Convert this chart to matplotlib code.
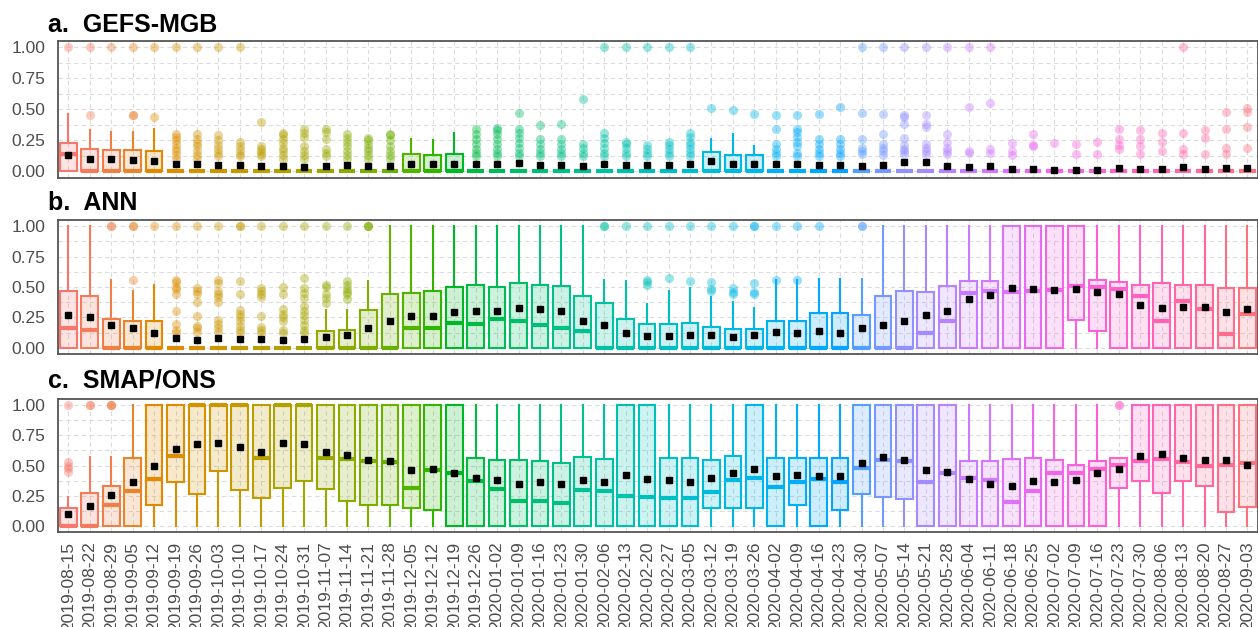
import numpy as np
import pandas as pd
import matplotlib
matplotlib.use("Agg")
import matplotlib.pyplot as plt

plt.rcParams['font.family'] = ['Liberation Sans', 'DejaVu Sans']

dates = pd.date_range('2019-08-15', periods=56, freq='7D').strftime('%Y-%m-%d').tolist()

# ---- a. GEFS-MGB ----
a_q1 = [0.0] * 56
a_q3 = [0.23, 0.18, 0.17, 0.17, 0.16, 0, 0, 0, 0, 0, 0, 0, 0, 0, 0, 0,
        0.14, 0.135, 0.14, 0, 0, 0, 0, 0, 0, 0, 0, 0, 0, 0,
        0.155, 0.135, 0.13, 0, 0, 0, 0, 0, 0, 0, 0, 0, 0, 0,
        0, 0, 0, 0, 0, 0, 0, 0, 0, 0, 0, 0]
a_med = [0.14] + [0.0] * 55
a_whi = [0.46, 0.33, 0.32, 0.32, 0.34, 0, 0, 0, 0, 0, 0, 0, 0, 0, 0, 0,
         0.26, 0.25, 0.31, 0, 0, 0, 0, 0, 0, 0, 0, 0, 0, 0,
         0.26, 0.30, 0.20, 0, 0, 0, 0, 0, 0, 0, 0, 0, 0, 0,
         0, 0, 0, 0, 0, 0, 0, 0, 0, 0, 0, 0]
a_wlo = [0.0] * 56
a_mean = [0.13, 0.10, 0.10, 0.095, 0.08, 0.06, 0.055, 0.05, 0.05, 0.04, 0.04, 0.035,
          0.04, 0.048, 0.04, 0.04, 0.055, 0.055, 0.06, 0.055, 0.06, 0.067, 0.05, 0.05,
          0.04, 0.06, 0.05, 0.05, 0.05, 0.06, 0.08, 0.06, 0.06, 0.06, 0.06, 0.05,
          0.048, 0.045, 0.048, 0.075, 0.073, 0.04, 0.035, 0.045, 0.02, 0.019, 0.013,
          0.013, 0.013, 0.027, 0.02, 0.02, 0.035, 0.02, 0.03, 0.027]
a_out = [
    [1.0], [0.45, 1.0], [1.0], [0.45, 0.45, 1.0], [0.44, 1.0],
    [0.1, 0.13, 0.16, 0.19, 0.22, 0.25, 0.28, 0.3, 1.0],
    [0.1, 0.13, 0.16, 0.2, 0.23, 0.26, 0.3, 1.0],
    [0.12, 0.15, 0.18, 0.21, 0.25, 0.29, 1.0],
    [0.12, 0.14, 0.17, 0.2, 0.24, 1.0],
    [0.12, 0.14, 0.16, 0.18, 0.2, 0.4],
    [0.1, 0.13, 0.16, 0.19, 0.23, 0.26, 0.29, 0.31],
    [0.1, 0.13, 0.16, 0.2, 0.28, 0.31, 0.34],
    [0.12, 0.15, 0.18, 0.26, 0.32, 0.34],
    [0.1, 0.13, 0.16, 0.2, 0.24, 0.27, 0.3],
    [0.1, 0.13, 0.16, 0.19, 0.22, 0.25, 0.27],
    [0.1, 0.13, 0.16, 0.2, 0.25, 0.29, 0.3],
    [], [], [],
    [0.12, 0.15, 0.18, 0.22, 0.26, 0.3, 0.34],
    [0.12, 0.15, 0.18, 0.22, 0.26, 0.3, 0.33, 0.35],
    [0.12, 0.15, 0.19, 0.23, 0.27, 0.31, 0.34, 0.47],
    [0.12, 0.15, 0.18, 0.22, 0.26, 0.37],
    [0.12, 0.15, 0.18, 0.22, 0.26, 0.38],
    [0.12, 0.15, 0.19, 0.22, 0.58],
    [0.12, 0.15, 0.19, 0.23, 0.27, 0.31, 1.0],
    [0.12, 0.15, 0.19, 0.22, 0.24, 1.0],
    [0.12, 0.15, 0.18, 0.21, 1.0],
    [0.12, 0.15, 0.18, 0.21, 0.24, 1.0],
    [0.12, 0.15, 0.18, 0.21, 0.24, 0.28, 0.31, 1.0],
    [0.51], [0.49], [0.46],
    [0.12, 0.15, 0.18, 0.22, 0.34, 0.45],
    [0.12, 0.15, 0.2, 0.24, 0.28, 0.32, 0.34, 0.45],
    [0.12, 0.15, 0.18, 0.22, 0.26, 0.46],
    [0.12, 0.15, 0.18, 0.22, 0.26, 0.52],
    [0.14, 0.16, 0.19, 0.26, 0.47, 1.0],
    [0.13, 0.16, 0.19, 0.22, 0.3, 0.46, 1.0],
    [0.14, 0.16, 0.18, 0.21, 0.27, 0.38, 0.44, 0.45, 1.0],
    [0.14, 0.16, 0.19, 0.22, 0.36, 0.38, 0.45, 1.0],
    [0.14, 0.16, 0.19, 0.24, 0.3, 1.0],
    [0.15, 0.16, 0.52, 1.0],
    [0.15, 0.18, 0.55, 1.0],
    [0.13, 0.16, 0.23],
    [0.2, 0.21, 0.3],
    [0.23],
    [0.14, 0.22],
    [0.14, 0.24],
    [0.18, 0.21, 0.26, 0.34],
    [0.14, 0.2, 0.26, 0.33],
    [0.16, 0.24, 0.31],
    [0.14, 0.18, 0.31, 1.0],
    [0.14, 0.27, 0.33],
    [0.14, 0.19, 0.34, 0.48],
    [0.19, 0.36, 0.48, 0.51],
]

# ---- b. ANN ----
b_q1 = [0.0] * 47 + [0.233, 0.137] + [0.0] * 7
b_q3 = [0.47, 0.43, 0.24, 0.22, 0.22, 0, 0, 0, 0, 0, 0, 0, 0.137, 0.148, 0.31, 0.44,
        0.45, 0.465, 0.50, 0.515, 0.50, 0.534, 0.52, 0.507, 0.43, 0.37, 0.24, 0.197,
        0.20, 0.205, 0.17, 0.156, 0.156, 0.225, 0.225, 0.29, 0.29, 0.27, 0.43, 0.466,
        0.46, 0.512, 0.548, 0.553, 1.0, 1.0, 1.0, 1.0, 0.56, 0.54, 0.52, 0.53, 0.52,
        0.52, 0.49, 0.49]
b_med = [0.16, 0.145, 0, 0, 0, 0, 0, 0, 0, 0, 0, 0, 0, 0, 0, 0,
         0.16, 0.164, 0.205, 0.197, 0.24, 0.22, 0.19, 0.16, 0.137, 0, 0, 0,
         0, 0, 0, 0, 0, 0, 0, 0, 0, 0, 0, 0,
         0.123, 0.22, 0.447, 0.466, 0.457, 0.47, 0.474, 0.507, 0.50, 0.485, 0.43, 0.22,
         0.384, 0.323, 0.118, 0.28]
b_whi = [1.0, 1.0, 0.56, 0.47, 0.52, 0, 0, 0, 0, 0, 0, 0, 0.31, 0.315, 0.55,
         1.0, 1.0, 1.0, 1.0, 1.0, 1.0, 1.0, 1.0, 1.0, 1.0,
         0.556, 0.55, 0.364, 0.47, 0.49, 0.42, 0.38, 0.33, 0.56, 0.56, 0.567, 0.567, 0.567,
         1.0, 1.0, 1.0, 1.0, 1.0, 1.0, 1.0, 1.0, 1.0, 1.0, 1.0, 1.0, 1.0, 1.0, 1.0,
         1.0, 1.0, 1.0]
b_wlo = [0.0] * 56
b_mean = [0.27, 0.255, 0.19, 0.16, 0.12, 0.08, 0.063, 0.08, 0.077, 0.077, 0.063, 0.077,
          0.09, 0.104, 0.165, 0.22, 0.26, 0.266, 0.293, 0.307, 0.307, 0.33, 0.323, 0.307,
          0.22, 0.186, 0.123, 0.096, 0.10, 0.11, 0.11, 0.09, 0.11, 0.13, 0.123, 0.137,
          0.123, 0.16, 0.186, 0.22, 0.27, 0.30, 0.40, 0.433, 0.488, 0.48, 0.474, 0.48,
          0.46, 0.44, 0.356, 0.33, 0.337, 0.337, 0.296, 0.32]
b_out = [
    [], [], [1.0, 1.0], [0.56, 1.0, 1.0], [1.0],
    [0.12, 0.15, 0.2, 0.3, 0.44, 0.48, 0.5, 0.54, 0.56, 1.0],
    [0.13, 0.16, 0.18, 0.26, 0.38, 0.44, 0.47, 0.49, 1.0],
    [0.13, 0.16, 0.2, 0.23, 0.38, 0.42, 0.44, 0.47, 0.53, 0.56, 1.0],
    [0.12, 0.15, 0.18, 0.22, 0.25, 0.28, 0.31, 0.44, 0.55, 1.0, 1.0],
    [0.12, 0.15, 0.17, 0.26, 0.42, 0.44, 0.47, 0.49, 1.0],
    [0.12, 0.15, 0.22, 0.25, 0.28, 0.32, 0.44, 0.5, 1.0],
    [0.12, 0.15, 0.19, 0.23, 0.27, 0.3, 0.34, 0.41, 0.45, 0.49, 0.57, 1.0],
    [0.37, 0.41, 0.44, 0.5, 0.52, 1.0],
    [0.4, 0.44, 0.46, 0.48, 0.52, 0.55, 1.0],
    [1.0, 1.0, 1.0],
    [], [], [], [], [], [], [], [], [], [],
    [1.0, 1.0], [1.0],
    [0.52, 0.54, 0.56, 1.0],
    [0.57, 1.0],
    [0.55, 1.0],
    [0.47, 0.48, 0.54, 1.0],
    [0.44, 0.46, 0.49, 1.0],
    [0.44, 0.46, 0.53, 1.0, 1.0],
    [0.56, 1.0], [0.56, 1.0], [1.0], [],
    [1.0, 1.0],
    [], [], [], [], [], [], [], [], [], [], [], [], [], [], [], [], [], [],
]

# ---- c. SMAP/ONS ----
c_q1 = [0, 0, 0, 0, 0.177, 0.36, 0.268, 0.458, 0.30, 0.232, 0.315, 0.37, 0.304, 0.204,
        0.171, 0.171, 0.152, 0.135, 0, 0, 0, 0, 0, 0, 0, 0, 0, 0, 0, 0, 0.149, 0.152,
        0.149, 0, 0.171, 0, 0.13, 0.268, 0.24, 0.227, 0, 0, 0, 0, 0, 0, 0, 0, 0, 0.315,
        0.37, 0.276, 0.37, 0.33, 0.116, 0.157]
c_q3 = [0.15, 0.276, 0.33, 0.563] + [1.0] * 15 + \
       [0.558, 0.544, 0.544, 0.536, 0.517, 0.572, 0.552, 1.0, 1.0, 0.566, 0.558, 0.544,
        0.58, 1.0, 0.563, 0.563, 0.563, 0.566, 1.0, 1.0, 1.0, 1.0, 1.0, 0.539, 0.539,
        0.552, 0.558, 0.544, 0.508, 0.536, 0.563, 1.0, 1.0, 1.0, 1.0, 1.0, 1.0]
c_med = [0, 0, 0.17, 0.293, 0.392, 0.577, 1.0, 1.0, 1.0, 0.566, 1.0, 1.0, 0.566, 0.552,
         0.541, 0.525, 0.31, 0.461, 0.44, 0.37, 0.304, 0.204, 0.204, 0.19, 0.30, 0.29,
         0.246, 0.24, 0.235, 0.235, 0.282, 0.384, 0.398, 0.323, 0.36, 0.392, 0.36, 0.48,
         0.544, 0.539, 0.365, 0.434, 0.398, 0.384, 0.20, 0.29, 0.44, 0.44, 0.47, 0.503,
         0.539, 0.552, 0.53, 0.497, 0.508, 0.517]
c_whi = [0.24, 0.57, 0.57] + [1.0] * 46 + [0.563] + [1.0] * 6
c_wlo = [0.0] * 56
c_mean = [0.10, 0.166, 0.254, 0.365, 0.494, 0.64, 0.674, 0.69, 0.655, 0.613, 0.682, 0.677,
          0.608, 0.59, 0.544, 0.536, 0.461, 0.475, 0.434, 0.398, 0.378, 0.345, 0.36, 0.345,
          0.378, 0.36, 0.425, 0.392, 0.378, 0.365, 0.40, 0.434, 0.47, 0.41, 0.42, 0.41,
          0.414, 0.522, 0.572, 0.544, 0.459, 0.448, 0.387, 0.345, 0.33, 0.37, 0.365, 0.384,
          0.434, 0.475, 0.577, 0.594, 0.566, 0.544, 0.544, 0.508]
c_out = [[0.45, 0.48, 0.5, 0.53, 1.0], [1.0, 1.0], [1.0, 1.0, 1.0]] + [[]] * 46 + \
        [[1.0, 1.0]] + [[]] * 6

panels = [
    ('a.  GEFS-MGB', a_q1, a_med, a_q3, a_wlo, a_whi, a_mean, a_out),
    ('b.  ANN', b_q1, b_med, b_q3, b_wlo, b_whi, b_mean, b_out),
    ('c.  SMAP/ONS', c_q1, c_med, c_q3, c_wlo, c_whi, c_mean, c_out),
]


def hue_pal(n):
    # ggplot2 default hue palette (HCL, c=100, l=65)
    h = np.deg2rad(15 + 360 * np.arange(n) / n)
    L, C = 65.0, 100.0
    u, v = C * np.cos(h), C * np.sin(h)
    Xn, Yn, Zn = 95.047, 100.0, 108.883
    den = Xn + 15 * Yn + 3 * Zn
    un, vn = 4 * Xn / den, 9 * Yn / den
    Y = Yn * ((L + 16) / 116) ** 3
    up, vp = u / (13 * L) + un, v / (13 * L) + vn
    X = Y * 9 * up / (4 * vp)
    Z = Y * (12 - 3 * up - 20 * vp) / (4 * vp)
    xyz = np.stack([X, np.full_like(X, Y), Z], 1) / 100
    M = np.array([[3.2404542, -1.5371385, -0.4985314],
                  [-0.9692660, 1.8760108, 0.0415560],
                  [0.0556434, -0.2040259, 1.0572252]])
    rgb = xyz @ M.T
    rgb = np.clip(rgb, 0, None)
    rgb = np.where(rgb <= 0.0031308, 12.92 * rgb, 1.055 * rgb ** (1 / 2.4) - 0.055)
    return np.clip(rgb, 0, 1)


cols = hue_pal(len(dates))
W, H = 1258, 627
fig = plt.figure(figsize=(W / 100, H / 100), dpi=100)

# panel tops / bottoms in pixels
boxes_px = [(41, 177.5), (220, 354), (399, 532)]
title_base = [31.5, 210, 388]
pos = np.arange(len(dates))

for k, (title, q1, med, q3, wlo, whi, mean, out) in enumerate(panels):
    top, bot = boxes_px[k]
    ax = fig.add_axes([57.6 / W, 1 - bot / H, 1200.5 / W, (bot - top) / H])
    stats = []
    for i in range(len(dates)):
        stats.append(dict(q1=q1[i], med=med[i], q3=q3[i], whislo=wlo[i], whishi=whi[i],
                          mean=mean[i], fliers=out[i]))
    art = ax.bxp(stats, positions=pos, widths=0.78, patch_artist=True, showmeans=True,
                 showcaps=False,
                 boxprops=dict(linewidth=1.5),
                 whiskerprops=dict(linewidth=1.5),
                 medianprops=dict(linewidth=3.0, solid_capstyle='butt'),
                 meanprops=dict(marker='s', markerfacecolor='black', markeredgecolor='black',
                                markersize=5),
                 flierprops=dict(marker='o', markersize=6.5, markeredgecolor='none'))
    for i, c in enumerate(cols):
        art['boxes'][i].set_facecolor((*c, 0.2))
        art['boxes'][i].set_edgecolor(c)
        art['medians'][i].set_color(c)
        art['whiskers'][2 * i].set_color(c)
        art['whiskers'][2 * i + 1].set_color(c)
        art['fliers'][i].set_markerfacecolor((*c, 0.4))
        art['means'][i].set_zorder(5)

    ax.set_xlim(-0.5, len(dates) - 0.5)
    ax.set_ylim(-0.05, 1.05)
    ax.set_yticks([0, 0.25, 0.5, 0.75, 1.0])
    ax.set_yticklabels(['0.00', '0.25', '0.50', '0.75', '1.00'])
    ax.set_yticks([0.125, 0.375, 0.625, 0.875], minor=True)
    ax.set_xticks(pos)
    ax.grid(which='both', axis='y', color='#DCDCDC', linestyle=(0, (4, 3)), linewidth=0.8)
    ax.grid(which='major', axis='x', color='#DCDCDC', linestyle=(0, (4, 3)), linewidth=0.8)
    ax.set_axisbelow(True)
    ax.tick_params(which='both', length=0)
    ax.tick_params(axis='y', pad=9, labelsize=12.5, labelcolor='#4D4D4D')
    for s in ax.spines.values():
        s.set_color('#555555')
        s.set_linewidth(1.3)
    if k < 2:
        ax.set_xticklabels([])
    else:
        ax.set_xticklabels(dates, rotation=90, fontsize=12.5, color='#4D4D4D')
        ax.tick_params(axis='x', pad=7)
    fig.text(48 / W, 1 - title_base[k] / H, title, fontsize=18, fontweight='bold',
             ha='left', va='baseline')

fig.savefig('out.png', dpi=100)
